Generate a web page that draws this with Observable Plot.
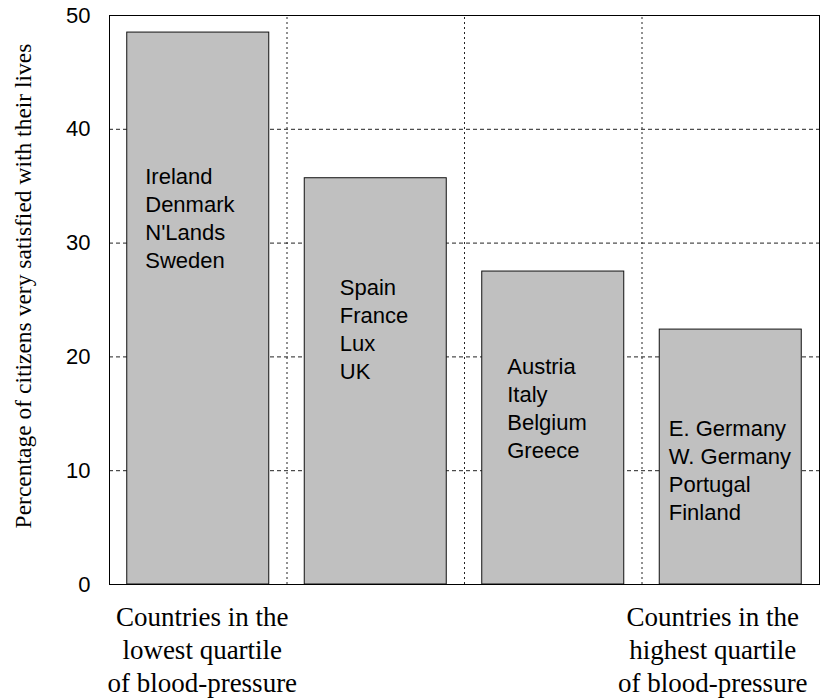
<!DOCTYPE html>
<html>
<head>
<meta charset="utf-8">
<script src="https://cdn.jsdelivr.net/npm/d3@7"></script>
<script src="https://cdn.jsdelivr.net/npm/@observablehq/plot@0.6"></script>
<style>
  html, body { margin: 0; padding: 0; background: #fff; }
</style>
</head>
<body>
<div id="chart"></div>
<script>
// ---- data ----
const groups = [1, 2, 3, 4];
const satisfied = [48.5, 35.7, 27.5, 22.4];
const countryLists = [
  "Ireland\nDenmark\nN'Lands\nSweden",
  "Spain\nFrance\nLux\nUK",
  "Austria\nItaly\nBelgium\nGreece",
  "E. Germany\nW. Germany\nPortugal\nFinland"
];
const listTop = [36.9, 27.15, 20.2, 14.76];   // value at which each country list starts
const yTicks = [0, 10, 20, 30, 40, 50];
const gridY = [10, 20, 30, 40, 50];
const gridX = [1.5, 2.5, 3.5];
const xNotes = [
  "Countries in the\nlowest quartile\nof blood-pressure",
  "Countries in the\nhighest quartile\nof blood-pressure"
];
const xNoteAt = [1, 4];
const yLabel = "Percentage of citizens very satisfied with their lives";

// ---- build ----
const bars = groups.map((g, i) => ({g, v: satisfied[i]}));
const listDx = [18, 35, 25, 9];
const noteDx = [4, -18];

const SANS = "'Liberation Sans', Arial, Helvetica, sans-serif";
const SERIF = "'Liberation Serif', 'Times New Roman', serif";

const marks = [
  Plot.ruleY(gridY, {stroke: "#222", strokeWidth: 1, strokeDasharray: "4,3"}),
  Plot.ruleX(gridX, {y1: 0, y2: 50, stroke: "#222", strokeWidth: 1, strokeDasharray: "2,3"}),
  Plot.rectY(bars, {x1: d => d.g - 0.4, x2: d => d.g + 0.4, y1: 0, y2: "v", fill: "#c0c0c0", stroke: "#111", strokeWidth: 1}),
  Plot.frame({stroke: "#000", strokeWidth: 1}),
  Plot.axisY({ticks: yTicks, tickSize: 0, tickPadding: 19, fontSize: 22, fontFamily: SANS, label: null, tickFormat: d => String(d)})
];

groups.forEach((g, i) => {
  marks.push(Plot.text([countryLists[i]], {
    x: g - 0.4, y: listTop[i], text: d => d, dx: listDx[i],
    textAnchor: "start", lineAnchor: "top", lineHeight: 1.27,
    fontSize: 22, fontFamily: SANS, fill: "#000"
  }));
});

xNotes.forEach((t, i) => {
  marks.push(Plot.text([t], {
    x: xNoteAt[i], y: 0, text: d => d, dx: noteDx[i], dy: 18,
    textAnchor: "middle", lineAnchor: "top", lineHeight: 1.22,
    fontSize: 27, fontFamily: SERIF, fill: "#000"
  }));
});

marks.push(Plot.text([yLabel], {
  frameAnchor: "left", text: d => d, rotate: -90, dx: -86, dy: -14,
  textAnchor: "middle", lineAnchor: "middle",
  fontSize: 23.5, fontFamily: SERIF, fill: "#000"
}));

const chart = Plot.plot({
  width: 821,
  height: 698,
  marginLeft: 109,
  marginRight: 2,
  marginTop: 15,
  marginBottom: 114,
  x: {domain: [0.5, 4.5], axis: null},
  y: {domain: [0, 50]},
  style: {background: "#fff", color: "#000", overflow: "visible"},
  marks
});
document.getElementById("chart").appendChild(chart);
</script>
</body>
</html>
